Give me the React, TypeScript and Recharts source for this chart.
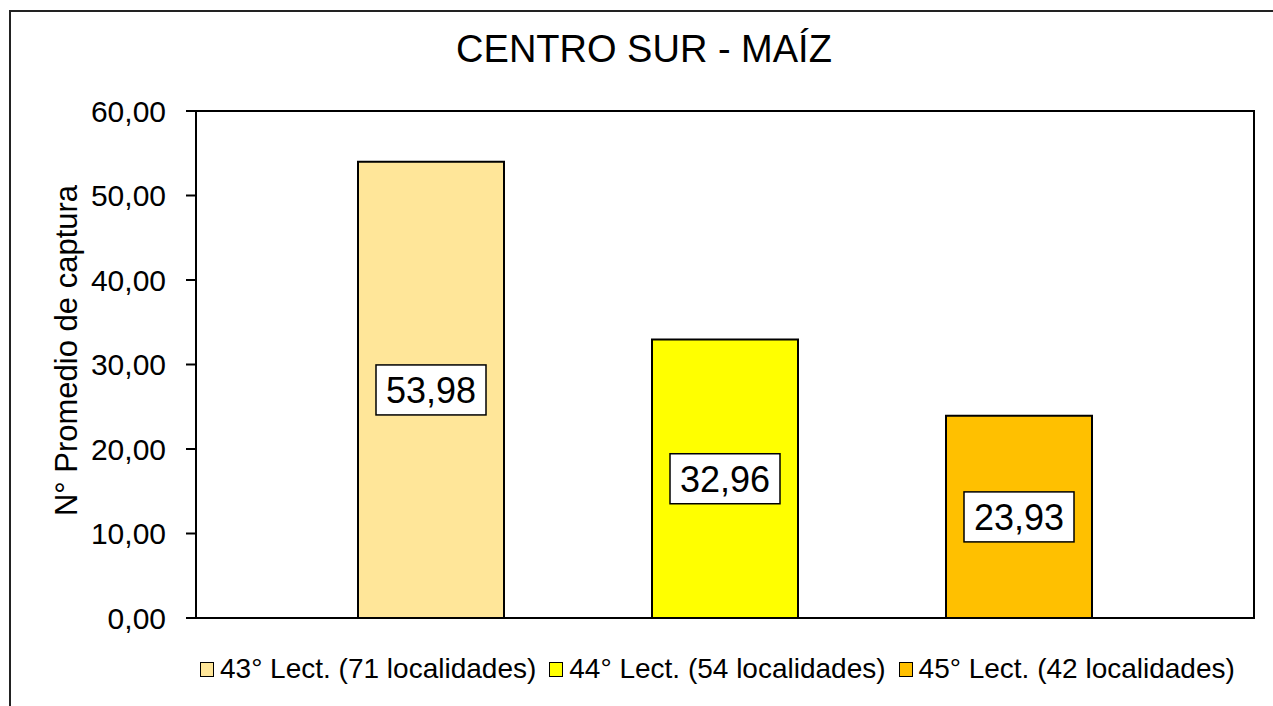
import React from 'react';
import { BarChart, Bar, XAxis, YAxis, Legend, LabelList, Customized, ReferenceArea } from 'recharts';

const categories = ['Centro Sur'];
const seriesKeys = ['l43', 'l44', 'l45'];
const seriesNames = ['43° Lect. (71 localidades)', '44° Lect. (54 localidades)', '45° Lect. (42 localidades)'];
const seriesValues = [53.98, 32.96, 23.93];
const seriesColors = ['#FFE699', '#FFFF00', '#FFC000'];
const yTicks = [0, 10, 20, 30, 40, 50, 60];
const chartTitle = 'CENTRO SUR - MAÍZ';
const yAxisTitle = 'N° Promedio de captura';

const data = categories.map((c) => {
  const row: any = { name: c };
  seriesKeys.forEach((k, i) => {
    row[k] = seriesValues[i];
  });
  return row;
});

const FONT = '"Liberation Sans", Arial, sans-serif';
const fmt = (v: number) => Number(v).toFixed(2).replace('.', ',');

const DataLabel = (props: any) => {
  const { x, y, width, height, value } = props;
  const cx = x + width / 2;
  const cy = y + height / 2;
  const w = 110;
  const h = 50;
  return (
    <g>
      <rect x={cx - w / 2} y={cy - h / 2} width={w} height={h} fill="#fff" stroke="#000" strokeWidth={1.5} />
      <text x={cx} y={cy + 13} textAnchor="middle" fontSize={36} fontFamily={FONT} fill="#000">
        {fmt(value)}
      </text>
    </g>
  );
};

const LegendContent = () => (
  <div style={{ display: 'flex', alignItems: 'center', fontFamily: FONT, fontSize: 28, color: '#000', whiteSpace: 'nowrap', lineHeight: 'normal' }}>
    {seriesNames.map((n, i) => (
      <div key={n} style={{ display: 'flex', alignItems: 'center', marginRight: 13 }}>
        <span style={{ display: 'inline-block', width: 12, height: 13, border: '1.5px solid #000', background: seriesColors[i], marginRight: 6 }} />
        <span>{n}</span>
      </div>
    ))}
  </div>
);

const YTitle = (props: any) => {
  const vb = props.viewBox || { x: 0, y: 0, width: 0, height: 0 };
  const x = vb.x + 77;
  const y = vb.y + vb.height / 2 - 14;
  return (
    <text x={x} y={y} transform={`rotate(-90, ${x}, ${y})`} textAnchor="middle" fontSize={31} fontFamily={FONT} fill="#000">
      {yAxisTitle}
    </text>
  );
};

const Title = () => (
  <text x={644} y={62} textAnchor="middle" fontSize={38} fontFamily={FONT} fill="#000">
    {chartTitle}
  </text>
);

export default function App() {
  return (
    <div style={{ position: 'fixed', left: 0, top: 0, width: 1273, height: 706, overflow: 'hidden', background: '#fff' }}>
      <div style={{ position: 'absolute', left: 9, top: 10, width: 1400, height: 800, border: '2px solid #222', boxSizing: 'border-box' }} />
      <div style={{ position: 'absolute', left: 0, top: 0 }}>
        <BarChart
          width={1273}
          height={706}
          data={data}
          margin={{ top: 111, right: 19, bottom: 88, left: 0 }}
          barSize={146}
          barGap={148}
        >
          <XAxis dataKey="name" tick={false} tickLine={false} height={0} axisLine={{ stroke: '#000', strokeWidth: 2 }} />
          <YAxis
            width={196}
            domain={[0, 60]}
            ticks={yTicks}
            interval={0}
            tickFormatter={fmt}
            tickSize={10}
            tickMargin={20}
            tick={{ fontSize: 30, fontFamily: FONT, fill: '#000' }}
            tickLine={{ stroke: '#000', strokeWidth: 2 }}
            axisLine={{ stroke: '#000', strokeWidth: 2 }}
            label={<YTitle />}
          />
          <ReferenceArea y1={0} y2={60} fill="none" fillOpacity={0} stroke="#000" strokeWidth={2} ifOverflow="visible" />
          <Legend
            layout="horizontal"
            verticalAlign="middle"
            align="center"
            content={<LegendContent />}
            wrapperStyle={{ position: 'absolute', top: 653, left: 200, width: 1073, height: 32, margin: 0 }}
          />
          {seriesKeys.map((k, i) => (
            <Bar
              key={k}
              dataKey={k}
              name={seriesNames[i]}
              fill={seriesColors[i]}
              stroke="#000"
              strokeWidth={2}
              isAnimationActive={false}
            >
              <LabelList dataKey={k} content={<DataLabel />} />
            </Bar>
          ))}
          <Customized component={<Title />} />
        </BarChart>
      </div>
    </div>
  );
}
